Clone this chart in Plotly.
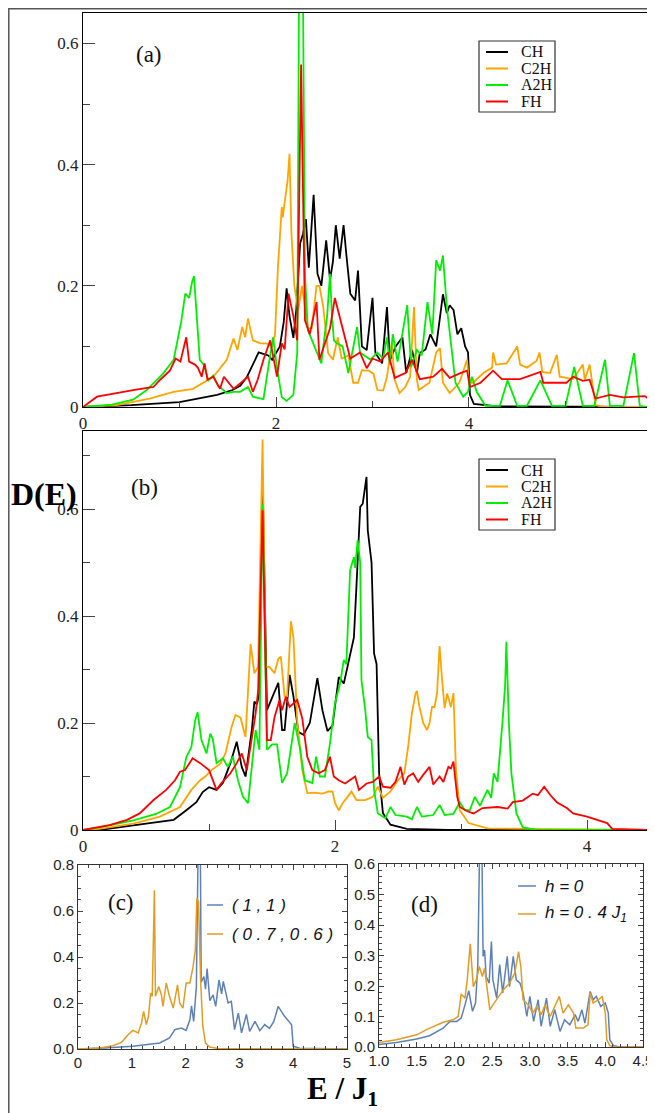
import plotly.graph_objects as go

# ---------------- Panel (a) ----------------
a_ch_E = [0, 0.5, 1.0, 1.39, 1.55, 1.63, 1.70, 1.78, 1.82, 1.86, 1.92, 1.96, 2.0, 2.04, 2.08, 2.11, 2.14, 2.18, 2.21, 2.25, 2.28, 2.31, 2.34, 2.39, 2.43, 2.47, 2.52, 2.56, 2.59, 2.62, 2.66, 2.70, 2.73, 2.77, 2.82, 2.85, 2.89, 2.94, 3.0, 3.03, 3.1, 3.15, 3.18, 3.24, 3.31, 3.35, 3.41, 3.46, 3.49, 3.55, 3.6, 3.66, 3.73, 3.77, 3.80, 3.84, 3.88, 3.92, 3.96, 3.99, 4.01, 4.05, 4.3, 5.85]
a_ch_D = [0, 0.003, 0.008, 0.02, 0.028, 0.035, 0.05, 0.075, 0.09, 0.088, 0.085, 0.078, 0.09, 0.1, 0.14, 0.196, 0.15, 0.114, 0.16, 0.27, 0.286, 0.31, 0.23, 0.35, 0.22, 0.2, 0.275, 0.21, 0.24, 0.30, 0.245, 0.30, 0.25, 0.187, 0.176, 0.225, 0.10, 0.094, 0.18, 0.089, 0.072, 0.165, 0.077, 0.1, 0.115, 0.056, 0.094, 0.056, 0.089, 0.095, 0.12, 0.1, 0.186, 0.155, 0.168, 0.16, 0.12, 0.13, 0.1, 0.09, 0.02, 0.005, 0.001, 0.0]

a_c2h_E = [0, 0.35, 0.69, 0.94, 1.14, 1.35, 1.49, 1.56, 1.60, 1.65, 1.68, 1.71, 1.76, 1.84, 1.90, 1.96, 1.99, 2.02, 2.06, 2.07, 2.09, 2.12, 2.14, 2.16, 2.19, 2.23, 2.27, 2.33, 2.37, 2.42, 2.45, 2.49, 2.54, 2.59, 2.64, 2.68, 2.75, 2.80, 2.85, 2.89, 2.92, 2.96, 3.01, 3.05, 3.11, 3.15, 3.20, 3.23, 3.28, 3.34, 3.39, 3.43, 3.46, 3.48, 3.59, 3.66, 3.70, 3.73, 3.80, 3.90, 3.98, 4.00, 4.04, 4.15, 4.24, 4.25, 4.28, 4.39, 4.50, 4.53, 4.60, 4.70, 4.73, 4.76, 4.84, 4.91, 4.94, 5.08, 5.18, 5.20, 5.25, 5.31, 5.40, 5.85]
a_c2h_D = [0, 0.003, 0.014, 0.025, 0.03, 0.05, 0.078, 0.113, 0.094, 0.132, 0.115, 0.146, 0.11, 0.105, 0.105, 0.1, 0.12, 0.23, 0.33, 0.313, 0.338, 0.373, 0.418, 0.286, 0.2, 0.16, 0.2, 0.13, 0.13, 0.2, 0.2, 0.165, 0.089, 0.078, 0.115, 0.08, 0.085, 0.04, 0.04, 0.061, 0.06, 0.06, 0.055, 0.028, 0.027, 0.05, 0.105, 0.045, 0.023, 0.033, 0.05, 0.165, 0.045, 0.028, 0.04, 0.09, 0.097, 0.04, 0.023, 0.04, 0.078, 0.04, 0.04, 0.056, 0.065, 0.09, 0.07, 0.072, 0.1, 0.07, 0.065, 0.076, 0.09, 0.058, 0.056, 0.086, 0.05, 0.046, 0.07, 0.045, 0.07, 0.003, 0.0, 0.0]

a_a2h_E = [0, 0.3, 0.52, 0.66, 0.83, 0.94, 1.02, 1.06, 1.10, 1.13, 1.15, 1.18, 1.21, 1.25, 1.30, 1.35, 1.40, 1.49, 1.56, 1.63, 1.71, 1.76, 1.87, 1.92, 1.97, 2.01, 2.06, 2.11, 2.18, 2.22, 2.245, 2.27, 2.30, 2.33, 2.40, 2.47, 2.49, 2.53, 2.56, 2.58, 2.60, 2.63, 2.69, 2.75, 2.84, 2.87, 2.98, 3.05, 3.11, 3.15, 3.18, 3.21, 3.26, 3.36, 3.40, 3.46, 3.51, 3.57, 3.62, 3.66, 3.70, 3.73, 3.77, 3.82, 3.86, 3.94, 3.99, 4.03, 4.08, 4.17, 4.32, 4.40, 4.50, 4.60, 4.74, 4.86, 5.00, 5.09, 5.18, 5.30, 5.41, 5.46, 5.60, 5.71, 5.77, 5.85]
a_a2h_D = [0, 0.004, 0.012, 0.028, 0.055, 0.078, 0.143, 0.187, 0.18, 0.206, 0.216, 0.15, 0.078, 0.07, 0.044, 0.052, 0.035, 0.023, 0.025, 0.025, 0.033, 0.017, 0.013, 0.065, 0.115, 0.065, 0.016, 0.01, 0.02, 0.09, 0.9, 0.9, 0.22, 0.127, 0.1, 0.072, 0.1, 0.15, 0.22, 0.15, 0.11, 0.105, 0.1, 0.056, 0.132, 0.09, 0.078, 0.09, 0.08, 0.115, 0.07, 0.12, 0.075, 0.168, 0.066, 0.094, 0.085, 0.173, 0.12, 0.242, 0.225, 0.25, 0.165, 0.089, 0.04, 0.017, 0.025, 0.05, 0.025, 0.002, 0.002, 0.044, 0.002, 0.002, 0.044, 0.002, 0.002, 0.066, 0.002, 0.002, 0.078, 0.002, 0.002, 0.089, 0.002, 0.0]

a_fh_E = [0, 0.08, 0.145, 0.52, 0.73, 0.80, 0.90, 0.96, 1.01, 1.07, 1.10, 1.16, 1.19, 1.23, 1.26, 1.29, 1.35, 1.42, 1.46, 1.56, 1.63, 1.71, 1.76, 1.81, 1.87, 1.94, 2.01, 2.06, 2.09, 2.13, 2.18, 2.22, 2.26, 2.30, 2.35, 2.42, 2.45, 2.50, 2.56, 2.61, 2.66, 2.70, 2.77, 2.87, 2.94, 3.0, 3.08, 3.16, 3.23, 3.34, 3.41, 3.49, 3.63, 3.72, 3.80, 3.91, 3.98, 4.01, 4.12, 4.25, 4.34, 4.53, 4.74, 4.77, 4.90, 5.01, 5.08, 5.18, 5.25, 5.31, 5.46, 5.60, 5.82, 5.85]
a_fh_D = [0, 0.01, 0.017, 0.028, 0.033, 0.045, 0.06, 0.08, 0.075, 0.115, 0.075, 0.07, 0.065, 0.05, 0.072, 0.045, 0.05, 0.03, 0.05, 0.03, 0.04, 0.05, 0.025, 0.045, 0.078, 0.11, 0.05, 0.105, 0.095, 0.187, 0.15, 0.11, 0.565, 0.143, 0.12, 0.173, 0.078, 0.1, 0.13, 0.18, 0.148, 0.12, 0.08, 0.09, 0.064, 0.08, 0.075, 0.09, 0.048, 0.056, 0.078, 0.046, 0.05, 0.063, 0.048, 0.056, 0.06, 0.033, 0.04, 0.06, 0.046, 0.046, 0.058, 0.04, 0.04, 0.04, 0.05, 0.043, 0.045, 0.014, 0.02, 0.016, 0.018, 0.015]

# ---------------- Panel (b) ----------------
b_ch_E = [0, 0.13, 0.53, 0.72, 0.82, 0.90, 0.95, 1.0, 1.06, 1.11, 1.17, 1.22, 1.26, 1.29, 1.34, 1.36, 1.38, 1.40, 1.425, 1.46, 1.50, 1.55, 1.58, 1.60, 1.64, 1.67, 1.71, 1.75, 1.80, 1.86, 1.90, 1.94, 1.98, 2.01, 2.03, 2.07, 2.12, 2.15, 2.17, 2.19, 2.2, 2.22, 2.25, 2.26, 2.29, 2.31, 2.33, 2.35, 2.38, 2.44, 2.57, 2.9, 4.48]
b_ch_D = [0, 0.0, 0.013, 0.019, 0.037, 0.052, 0.071, 0.08, 0.075, 0.088, 0.125, 0.165, 0.118, 0.1, 0.187, 0.24, 0.235, 0.256, 0.66, 0.224, 0.247, 0.275, 0.187, 0.187, 0.29, 0.25, 0.183, 0.178, 0.2, 0.284, 0.224, 0.185, 0.195, 0.25, 0.286, 0.274, 0.33, 0.36, 0.455, 0.548, 0.604, 0.61, 0.66, 0.56, 0.5, 0.33, 0.31, 0.106, 0.032, 0.01, 0.002, 0.0, 0.0]

b_c2h_E = [0, 0.13, 0.40, 0.61, 0.77, 0.86, 0.93, 0.97, 1.02, 1.09, 1.13, 1.18, 1.21, 1.25, 1.29, 1.32, 1.33, 1.36, 1.39, 1.425, 1.45, 1.48, 1.52, 1.55, 1.57, 1.60, 1.62, 1.65, 1.67, 1.70, 1.74, 1.78, 1.84, 1.90, 1.95, 1.98, 2.0, 2.03, 2.06, 2.10, 2.13, 2.17, 2.24, 2.30, 2.34, 2.38, 2.44, 2.50, 2.55, 2.58, 2.61, 2.64, 2.65, 2.67, 2.70, 2.73, 2.75, 2.77, 2.79, 2.81, 2.83, 2.85, 2.87, 2.89, 2.92, 2.94, 2.96, 2.99, 3.06, 3.21, 4.48]
b_c2h_D = [0, 0.002, 0.012, 0.025, 0.043, 0.075, 0.093, 0.1, 0.112, 0.124, 0.143, 0.193, 0.215, 0.21, 0.174, 0.305, 0.348, 0.293, 0.305, 0.73, 0.305, 0.305, 0.293, 0.32, 0.324, 0.25, 0.25, 0.39, 0.36, 0.205, 0.112, 0.069, 0.07, 0.068, 0.072, 0.072, 0.05, 0.037, 0.05, 0.062, 0.072, 0.056, 0.056, 0.062, 0.081, 0.06, 0.072, 0.093, 0.106, 0.155, 0.218, 0.256, 0.26, 0.23, 0.2, 0.187, 0.2, 0.23, 0.23, 0.256, 0.344, 0.28, 0.228, 0.255, 0.23, 0.256, 0.112, 0.037, 0.013, 0.003, 0.0]

b_a2h_E = [0, 0.13, 0.40, 0.58, 0.69, 0.77, 0.82, 0.86, 0.89, 0.91, 0.94, 0.98, 1.01, 1.03, 1.06, 1.11, 1.15, 1.19, 1.23, 1.27, 1.31, 1.34, 1.37, 1.40, 1.425, 1.46, 1.50, 1.54, 1.58, 1.62, 1.66, 1.68, 1.72, 1.76, 1.82, 1.85, 1.88, 1.92, 1.96, 2.0, 2.04, 2.07, 2.09, 2.12, 2.15, 2.16, 2.18, 2.2, 2.21, 2.24, 2.26, 2.29, 2.31, 2.34, 2.40, 2.44, 2.48, 2.57, 2.61, 2.65, 2.69, 2.78, 2.83, 2.87, 2.94, 2.99, 3.03, 3.07, 3.11, 3.15, 3.21, 3.24, 3.26, 3.29, 3.33, 3.35, 3.36, 3.38, 3.40, 3.44, 3.49, 3.6, 4.48]
b_a2h_D = [0, 0.005, 0.018, 0.03, 0.043, 0.08, 0.136, 0.155, 0.205, 0.22, 0.168, 0.143, 0.18, 0.17, 0.125, 0.134, 0.118, 0.137, 0.093, 0.062, 0.05, 0.12, 0.187, 0.15, 0.61, 0.15, 0.16, 0.16, 0.088, 0.106, 0.168, 0.2, 0.155, 0.093, 0.088, 0.137, 0.1, 0.1, 0.162, 0.237, 0.274, 0.318, 0.31, 0.486, 0.51, 0.49, 0.542, 0.5, 0.28, 0.224, 0.174, 0.168, 0.075, 0.031, 0.022, 0.043, 0.028, 0.025, 0.02, 0.043, 0.025, 0.028, 0.047, 0.028, 0.03, 0.052, 0.037, 0.037, 0.062, 0.045, 0.075, 0.06, 0.106, 0.09, 0.205, 0.27, 0.352, 0.2, 0.106, 0.031, 0.005, 0.0, 0.0]

b_fh_E = [0, 0.21, 0.35, 0.45, 0.56, 0.66, 0.73, 0.77, 0.81, 0.87, 0.93, 1.0, 1.05, 1.06, 1.10, 1.17, 1.22, 1.26, 1.30, 1.34, 1.37, 1.39, 1.425, 1.46, 1.49, 1.52, 1.56, 1.58, 1.61, 1.64, 1.67, 1.70, 1.74, 1.78, 1.82, 1.87, 1.92, 1.96, 1.99, 2.03, 2.08, 2.12, 2.16, 2.19, 2.25, 2.30, 2.35, 2.38, 2.44, 2.48, 2.52, 2.55, 2.58, 2.62, 2.66, 2.70, 2.75, 2.78, 2.83, 2.86, 2.90, 2.92, 2.94, 2.97, 2.99, 3.05, 3.10, 3.17, 3.29, 3.37, 3.41, 3.49, 3.57, 3.61, 3.66, 3.71, 3.76, 3.84, 3.89, 4.0, 4.08, 4.16, 4.2, 4.48]
b_fh_D = [0, 0.009, 0.019, 0.031, 0.056, 0.075, 0.093, 0.109, 0.112, 0.134, 0.125, 0.112, 0.081, 0.075, 0.088, 0.106, 0.125, 0.143, 0.112, 0.174, 0.218, 0.26, 0.598, 0.168, 0.168, 0.211, 0.243, 0.224, 0.249, 0.23, 0.236, 0.243, 0.209, 0.137, 0.112, 0.106, 0.112, 0.137, 0.1, 0.093, 0.087, 0.094, 0.1, 0.075, 0.087, 0.09, 0.1, 0.081, 0.079, 0.09, 0.118, 0.085, 0.1, 0.106, 0.09, 0.103, 0.118, 0.085, 0.1, 0.09, 0.118, 0.115, 0.128, 0.062, 0.043, 0.035, 0.031, 0.041, 0.043, 0.04, 0.052, 0.055, 0.068, 0.065, 0.081, 0.065, 0.052, 0.041, 0.031, 0.025, 0.019, 0.013, 0.002, 0.0]

# ---------------- Panel (c) ----------------
c_11_E = [0, 0.5, 1.02, 1.52, 1.70, 1.80, 1.92, 2.01, 2.08, 2.11, 2.15, 2.20, 2.24, 2.27, 2.29, 2.34, 2.37, 2.40, 2.45, 2.51, 2.56, 2.62, 2.67, 2.70, 2.79, 2.85, 2.91, 2.98, 3.04, 3.13, 3.19, 3.29, 3.38, 3.47, 3.56, 3.64, 3.72, 3.78, 3.84, 3.92, 3.97, 4.0, 4.12, 5.0]
c_11_D = [0, 0.004, 0.012, 0.026, 0.048, 0.084, 0.091, 0.081, 0.127, 0.188, 0.12, 0.27, 1.0, 1.0, 0.29, 0.315, 0.26, 0.35, 0.21, 0.235, 0.185, 0.3, 0.24, 0.294, 0.2, 0.207, 0.084, 0.156, 0.07, 0.15, 0.077, 0.12, 0.08, 0.106, 0.09, 0.12, 0.185, 0.163, 0.142, 0.12, 0.105, 0.012, 0.003, 0.0]

c_0706_E = [0, 0.4, 0.65, 0.81, 0.93, 1.02, 1.12, 1.18, 1.22, 1.27, 1.31, 1.35, 1.38, 1.42, 1.44, 1.50, 1.55, 1.58, 1.64, 1.70, 1.77, 1.85, 1.89, 1.95, 2.01, 2.08, 2.14, 2.18, 2.21, 2.24, 2.28, 2.32, 2.37, 2.45, 2.63, 5.0]
c_0706_D = [0, 0.004, 0.014, 0.029, 0.062, 0.081, 0.07, 0.113, 0.163, 0.106, 0.142, 0.243, 0.229, 0.69, 0.229, 0.272, 0.236, 0.185, 0.287, 0.229, 0.178, 0.279, 0.2, 0.178, 0.287, 0.287, 0.359, 0.43, 0.655, 0.64, 0.29, 0.098, 0.026, 0.009, 0.001, 0.0]

# ---------------- Panel (d) ----------------
d_h0_E = [1.0, 1.23, 1.5, 1.67, 1.85, 1.94, 2.03, 2.09, 2.14, 2.19, 2.24, 2.28, 2.31, 2.34, 2.36, 2.38, 2.40, 2.42, 2.46, 2.49, 2.51, 2.56, 2.60, 2.64, 2.70, 2.73, 2.78, 2.82, 2.87, 2.91, 2.96, 3.0, 3.05, 3.11, 3.15, 3.22, 3.27, 3.33, 3.40, 3.46, 3.53, 3.60, 3.64, 3.69, 3.73, 3.80, 3.84, 3.88, 3.94, 4.0, 4.04, 4.06, 4.11, 4.2, 4.5]
d_h0_D = [0.008, 0.015, 0.026, 0.037, 0.062, 0.084, 0.084, 0.095, 0.138, 0.185, 0.117, 0.144, 0.27, 0.75, 0.75, 0.297, 0.318, 0.231, 0.209, 0.346, 0.22, 0.16, 0.27, 0.177, 0.297, 0.198, 0.297, 0.22, 0.209, 0.177, 0.1, 0.166, 0.084, 0.155, 0.068, 0.16, 0.068, 0.122, 0.051, 0.089, 0.073, 0.106, 0.084, 0.122, 0.078, 0.182, 0.155, 0.166, 0.133, 0.144, 0.111, 0.024, 0.004, 0.0, 0.0]

d_h04_E = [1.0, 1.23, 1.5, 1.63, 1.85, 1.98, 2.05, 2.09, 2.14, 2.17, 2.21, 2.25, 2.29, 2.33, 2.37, 2.40, 2.43, 2.47, 2.51, 2.56, 2.65, 2.73, 2.80, 2.85, 2.88, 2.91, 2.98, 3.04, 3.09, 3.15, 3.20, 3.27, 3.32, 3.39, 3.44, 3.51, 3.58, 3.61, 3.71, 3.77, 3.80, 3.84, 3.91, 3.96, 4.0, 4.02, 4.06, 4.15, 4.5]
d_h04_D = [0.015, 0.024, 0.04, 0.057, 0.081, 0.089, 0.1, 0.174, 0.16, 0.22, 0.338, 0.198, 0.22, 0.264, 0.231, 0.258, 0.198, 0.122, 0.138, 0.155, 0.188, 0.209, 0.242, 0.313, 0.264, 0.155, 0.138, 0.111, 0.133, 0.106, 0.138, 0.1, 0.128, 0.166, 0.111, 0.138, 0.111, 0.062, 0.062, 0.073, 0.177, 0.144, 0.155, 0.166, 0.111, 0.024, 0.004, 0.0, 0.0]

series_names = ["CH", "C2H", "A2H", "FH"]
series_colors = ["#000000", "#FFA500", "#00EE00", "#FF0000"]

# The page places the figure 8 px in from the window's top-left corner,
# so the figure is sized to fill the rest of the 655x1113 window.
OFF = 8
W, H = 655 - OFF, 1113 - OFF
def px(x): return (x - OFF) / W
def py(y): return 1 - (y - OFF) / H

fig = go.Figure()

a_data = [(a_ch_E, a_ch_D), (a_c2h_E, a_c2h_D), (a_a2h_E, a_a2h_D), (a_fh_E, a_fh_D)]
b_data = [(b_ch_E, b_ch_D), (b_c2h_E, b_c2h_D), (b_a2h_E, b_a2h_D), (b_fh_E, b_fh_D)]
for (E, D), n, c in zip(a_data, series_names, series_colors):
    fig.add_trace(go.Scatter(x=E, y=D, mode="lines", name=n, line=dict(color=c, width=1.8),
                             xaxis="x", yaxis="y", showlegend=False))
for (E, D), n, c in zip(b_data, series_names, series_colors):
    fig.add_trace(go.Scatter(x=E, y=D, mode="lines", name=n, line=dict(color=c, width=1.8),
                             xaxis="x2", yaxis="y2", showlegend=False))

MBLUE, MORANGE = "#5E81B5", "#E19C24"
fig.add_trace(go.Scatter(x=c_11_E, y=c_11_D, mode="lines", line=dict(color=MBLUE, width=1.5),
                         xaxis="x3", yaxis="y3", showlegend=False))
fig.add_trace(go.Scatter(x=c_0706_E, y=c_0706_D, mode="lines", line=dict(color=MORANGE, width=1.5),
                         xaxis="x3", yaxis="y3", showlegend=False))
fig.add_trace(go.Scatter(x=d_h0_E, y=d_h0_D, mode="lines", line=dict(color=MBLUE, width=1.5),
                         xaxis="x4", yaxis="y4", showlegend=False))
fig.add_trace(go.Scatter(x=d_h04_E, y=d_h04_D, mode="lines", line=dict(color=MORANGE, width=1.5),
                         xaxis="x4", yaxis="y4", showlegend=False))

SERIF = "Liberation Serif, Times New Roman, serif"
SANS = "Liberation Sans, Arial, sans-serif"
serif = dict(family=SERIF, size=17, color="#222")
sans = dict(family=SANS, size=15, color="#222")

def ax(domain, rng, tickvals, ticktext, minor_dtick, font, anchor, mirror_ticks=False, ticklen=9, minorlen=5):
    return dict(domain=domain, range=rng, tickmode="array", tickvals=tickvals, ticktext=ticktext,
                ticks="inside", ticklen=ticklen, tickcolor="#444", tickwidth=1,
                minor=dict(ticks="inside", ticklen=minorlen, dtick=minor_dtick, tickcolor="#444", showgrid=False),
                showline=True, linecolor="#000", linewidth=1.2,
                mirror="ticks" if mirror_ticks else True, automargin=False,
                showgrid=False, zeroline=False, tickfont=font, anchor=anchor, fixedrange=True)

fig.update_layout(
    template="none",
    font=dict(family=SERIF, size=17, color="#222"),
    width=W, height=H, margin=dict(l=0, r=0, t=0, b=0, pad=0, autoexpand=False),
    paper_bgcolor="white", plot_bgcolor="white", showlegend=False,
    xaxis=ax([px(83), px(648)], [0, 5.855], [0, 2, 4], ["0", "2", "4"], 1, serif, "y", ticklen=10, minorlen=6),
    yaxis=ax([py(407), py(12.5)], [0, 0.651], [0, 0.2, 0.4, 0.6], ["0", "0.2", "0.4", "0.6"], 0.1, serif, "x", ticklen=12, minorlen=7),
    xaxis2=ax([px(83), px(648)], [0, 4.484], [0, 2, 4], ["0", "2", "4"], 1, serif, "y2", ticklen=10, minorlen=6),
    yaxis2=ax([py(830), py(431)], [0, 0.746], [0, 0.2, 0.4, 0.6], ["0", "0.2", "0.4", "0.6"], 0.1, serif, "x2", ticklen=12, minorlen=7),
    xaxis3=ax([px(78), px(347)], [0, 5], [0, 1, 2, 3, 4, 5], ["0", "1", "2", "3", "4", "5"], 0.2, sans, "y3", True, 5, 3),
    yaxis3=ax([py(1049), py(865)], [0, 0.8], [0, 0.2, 0.4, 0.6, 0.8], ["0.0", "0.2", "0.4", "0.6", "0.8"], 0.05, sans, "x3", True, 5, 3),
    xaxis4=ax([px(379), px(643)], [1, 4.5], [1, 1.5, 2, 2.5, 3, 3.5, 4, 4.5], ["1.0", "1.5", "2.0", "2.5", "3.0", "3.5", "4.0", "4.5"], 0.1, sans, "y4", True, 5, 3),
    yaxis4=ax([py(1047), py(864)], [0, 0.6], [0, 0.1, 0.2, 0.3, 0.4, 0.5, 0.6], ["0.0", "0.1", "0.2", "0.3", "0.4", "0.5", "0.6"], 0.02, sans, "x4", True, 5, 3),
)
for a in ["xaxis3", "yaxis3", "xaxis4", "yaxis4"]:
    fig.layout[a].linecolor = "#333"
    fig.layout[a].linewidth = 1

shapes = []
annotations = []
# outer frame
shapes.append(dict(type="rect", xref="paper", yref="paper", x0=px(8.8), x1=px(653), y0=py(1118), y1=py(8.8),
                   line=dict(color="#555", width=1.5), fillcolor="rgba(0,0,0,0)", layer="above"))

# legends for (a) and (b)
def serif_legend(top, left=479, right=555, bottom_off=71):
    shapes.append(dict(type="rect", xref="paper", yref="paper", x0=px(left), x1=px(right),
                       y0=py(top + bottom_off), y1=py(top), line=dict(color="#333", width=1.2),
                       fillcolor="white", layer="above"))
    for i, (n, c) in enumerate(zip(series_names, series_colors)):
        yy = top + 11 + i * 16.5
        shapes.append(dict(type="line", xref="paper", yref="paper", x0=px(486), x1=px(508),
                           y0=py(yy), y1=py(yy), line=dict(color=c, width=2), layer="above"))
        annotations.append(dict(text=n, xref="paper", yref="paper", x=px(519), y=py(yy),
                                xanchor="left", yanchor="middle", showarrow=False,
                                font=dict(family=SERIF, size=16, color="#111")))
serif_legend(41)
serif_legend(459)

# legends for (c) and (d)
def m_legend(x0, x1, ytxt, labels, colors):
    for (yy, t, c) in zip(ytxt, labels, colors):
        shapes.append(dict(type="line", xref="paper", yref="paper", x0=px(x0), x1=px(x1),
                           y0=py(yy), y1=py(yy), line=dict(color=c, width=1.5), layer="above"))
        annotations.append(dict(text=t, xref="paper", yref="paper", x=px(x1 + 7), y=py(yy),
                                xanchor="left", yanchor="middle", showarrow=False,
                                font=dict(family=SANS, size=17, color="#111")))
m_legend(207, 223, [905, 934], ["<i>( 1 , 1 )</i>", "<i>( 0 . 7 , 0 . 6 )</i>"], [MBLUE, MORANGE])
m_legend(518, 536, [886, 914], ["<i>h = 0</i>", "<i>h = 0 . 4 J<sub>1</sub></i>"], [MBLUE, MORANGE])

# panel labels
for t, x, y in [("(a)", 149, 55), ("(b)", 144, 487), ("(c)", 121, 902), ("(d)", 424, 904)]:
    annotations.append(dict(text=t, xref="paper", yref="paper", x=px(x), y=py(y), xanchor="center",
                            yanchor="middle", showarrow=False,
                            font=dict(family=SERIF, size=23, color="#111")))

annotations.append(dict(text="<b>D(E)</b>", xref="paper", yref="paper", x=px(9), y=py(494),
                        xanchor="left", yanchor="middle", showarrow=False,
                        font=dict(family=SERIF, size=32, color="#000")))
annotations.append(dict(text="<b>E / J<sub>1</sub></b>", xref="paper", yref="paper", x=px(342), y=py(1091),
                        xanchor="center", yanchor="middle", showarrow=False,
                        font=dict(family=SERIF, size=31, color="#000")))

fig.update_layout(shapes=shapes, annotations=annotations)
fig.write_html("out.html")
